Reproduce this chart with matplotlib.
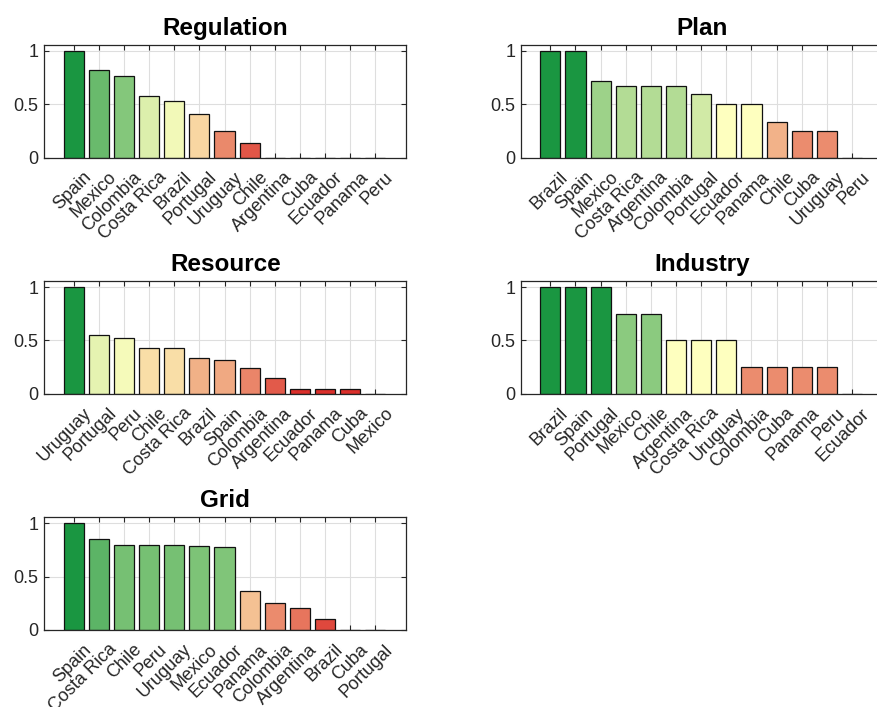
"""Normalised indicator scores per country, one bar panel per dimension."""

import matplotlib

matplotlib.use("Agg")
import matplotlib.pyplot as plt
import numpy as np
from matplotlib.colors import LinearSegmentedColormap
from matplotlib.transforms import ScaledTranslation

plt.rcParams["font.family"] = ["Liberation Sans", "DejaVu Sans"]

REGULATION_COUNTRIES = ["Spain", "Mexico", "Colombia", "Costa Rica", "Brazil", "Portugal",
                        "Uruguay", "Chile", "Argentina", "Cuba", "Ecuador", "Panama", "Peru"]
REGULATION_VALUES = [1.0, 0.826, 0.766, 0.576, 0.53, 0.411, 0.246, 0.134, 0, 0, 0, 0, 0]

PLAN_COUNTRIES = ["Brazil", "Spain", "Mexico", "Costa Rica", "Argentina", "Colombia", "Portugal",
                  "Ecuador", "Panama", "Chile", "Cuba", "Uruguay", "Peru"]
PLAN_VALUES = [1.0, 1.0, 0.714, 0.667, 0.667, 0.667, 0.6, 0.5, 0.5, 0.333, 0.25, 0.25, 0]

RESOURCE_COUNTRIES = ["Uruguay", "Portugal", "Peru", "Chile", "Costa Rica", "Brazil", "Spain",
                      "Colombia", "Argentina", "Ecuador", "Panama", "Cuba", "Mexico"]
RESOURCE_VALUES = [1.0, 0.555, 0.52, 0.426, 0.426, 0.332, 0.313, 0.238, 0.144, 0.047, 0.047, 0.047, 0]

INDUSTRY_COUNTRIES = ["Brazil", "Spain", "Portugal", "Mexico", "Chile", "Argentina", "Costa Rica",
                      "Uruguay", "Colombia", "Cuba", "Panama", "Peru", "Ecuador"]
INDUSTRY_VALUES = [1.0, 1.0, 1.0, 0.75, 0.75, 0.5, 0.5, 0.5, 0.25, 0.25, 0.25, 0.25, 0]

GRID_COUNTRIES = ["Spain", "Costa Rica", "Chile", "Peru", "Uruguay", "Mexico", "Ecuador",
                  "Panama", "Colombia", "Argentina", "Brazil", "Cuba", "Portugal"]
GRID_VALUES = [1.0, 0.854, 0.797, 0.797, 0.797, 0.782, 0.776, 0.364, 0.249, 0.202, 0.103, 0, 0]

PANELS = [
    ("Regulation", REGULATION_COUNTRIES, REGULATION_VALUES),
    ("Plan", PLAN_COUNTRIES, PLAN_VALUES),
    ("Resource", RESOURCE_COUNTRIES, RESOURCE_VALUES),
    ("Industry", INDUSTRY_COUNTRIES, INDUSTRY_VALUES),
    ("Grid", GRID_COUNTRIES, GRID_VALUES),
]

CMAP = LinearSegmentedColormap.from_list("ryg", ["#d7191c", "#ffffbf", "#1a9641"])
AX_COLOR = "#262626"
GRID_COLOR = "#dedede"
YTICKS = [0, 0.5, 1]

# axes rectangles in figure fractions (left, bottom, width, height)
COL_LEFT = [0.0505, 0.594]
ROW_BOTTOM = [0.777, 0.443, 0.109]
AX_W, AX_H = 0.4128, 0.160

fig = plt.figure(figsize=(8.77, 7.07), dpi=100)
label_shift = ScaledTranslation(0.09, 0.0, fig.dpi_scale_trans)

for i, (title, countries, values) in enumerate(PANELS):
    row, col = divmod(i, 2)
    ax = fig.add_axes([COL_LEFT[col], ROW_BOTTOM[row], AX_W, AX_H])
    x = np.arange(len(countries))
    vals = np.asarray(values)

    # grid behind the bars, tick marks stay on top
    for xi in x:
        ax.axvline(xi, color=GRID_COLOR, linewidth=0.8, zorder=0.5)
    for yi in YTICKS:
        ax.axhline(yi, color=GRID_COLOR, linewidth=0.8, zorder=0.5)

    ax.bar(x, vals, width=0.8, color=CMAP(vals), edgecolor="#111111", linewidth=0.9, zorder=2)

    ax.set_xlim(-1.17, len(countries) - 1 + 1.23)
    ax.set_ylim(0, 1.06)
    ax.set_yticks(YTICKS)
    ax.set_yticklabels(["0", "0.5", "1"])
    ax.set_xticks(x)
    ax.set_xticklabels(countries, rotation=45, ha="right", va="top",
                       rotation_mode="anchor")
    ax.tick_params(axis="both", direction="in", length=3.5, width=0.8, colors=AX_COLOR,
                   labelsize=13, top=True, right=True)
    ax.tick_params(axis="x", pad=8)
    ax.tick_params(axis="y", pad=4)
    for spine in ax.spines.values():
        spine.set_color(AX_COLOR)
        spine.set_linewidth(0.9)
    ax.set_title(title, fontsize=17.5, fontweight="bold", pad=7)

    for lbl in ax.get_xticklabels():
        lbl.set_transform(lbl.get_transform() + label_shift)

fig.savefig("out.png", dpi=100)
plt.close(fig)
